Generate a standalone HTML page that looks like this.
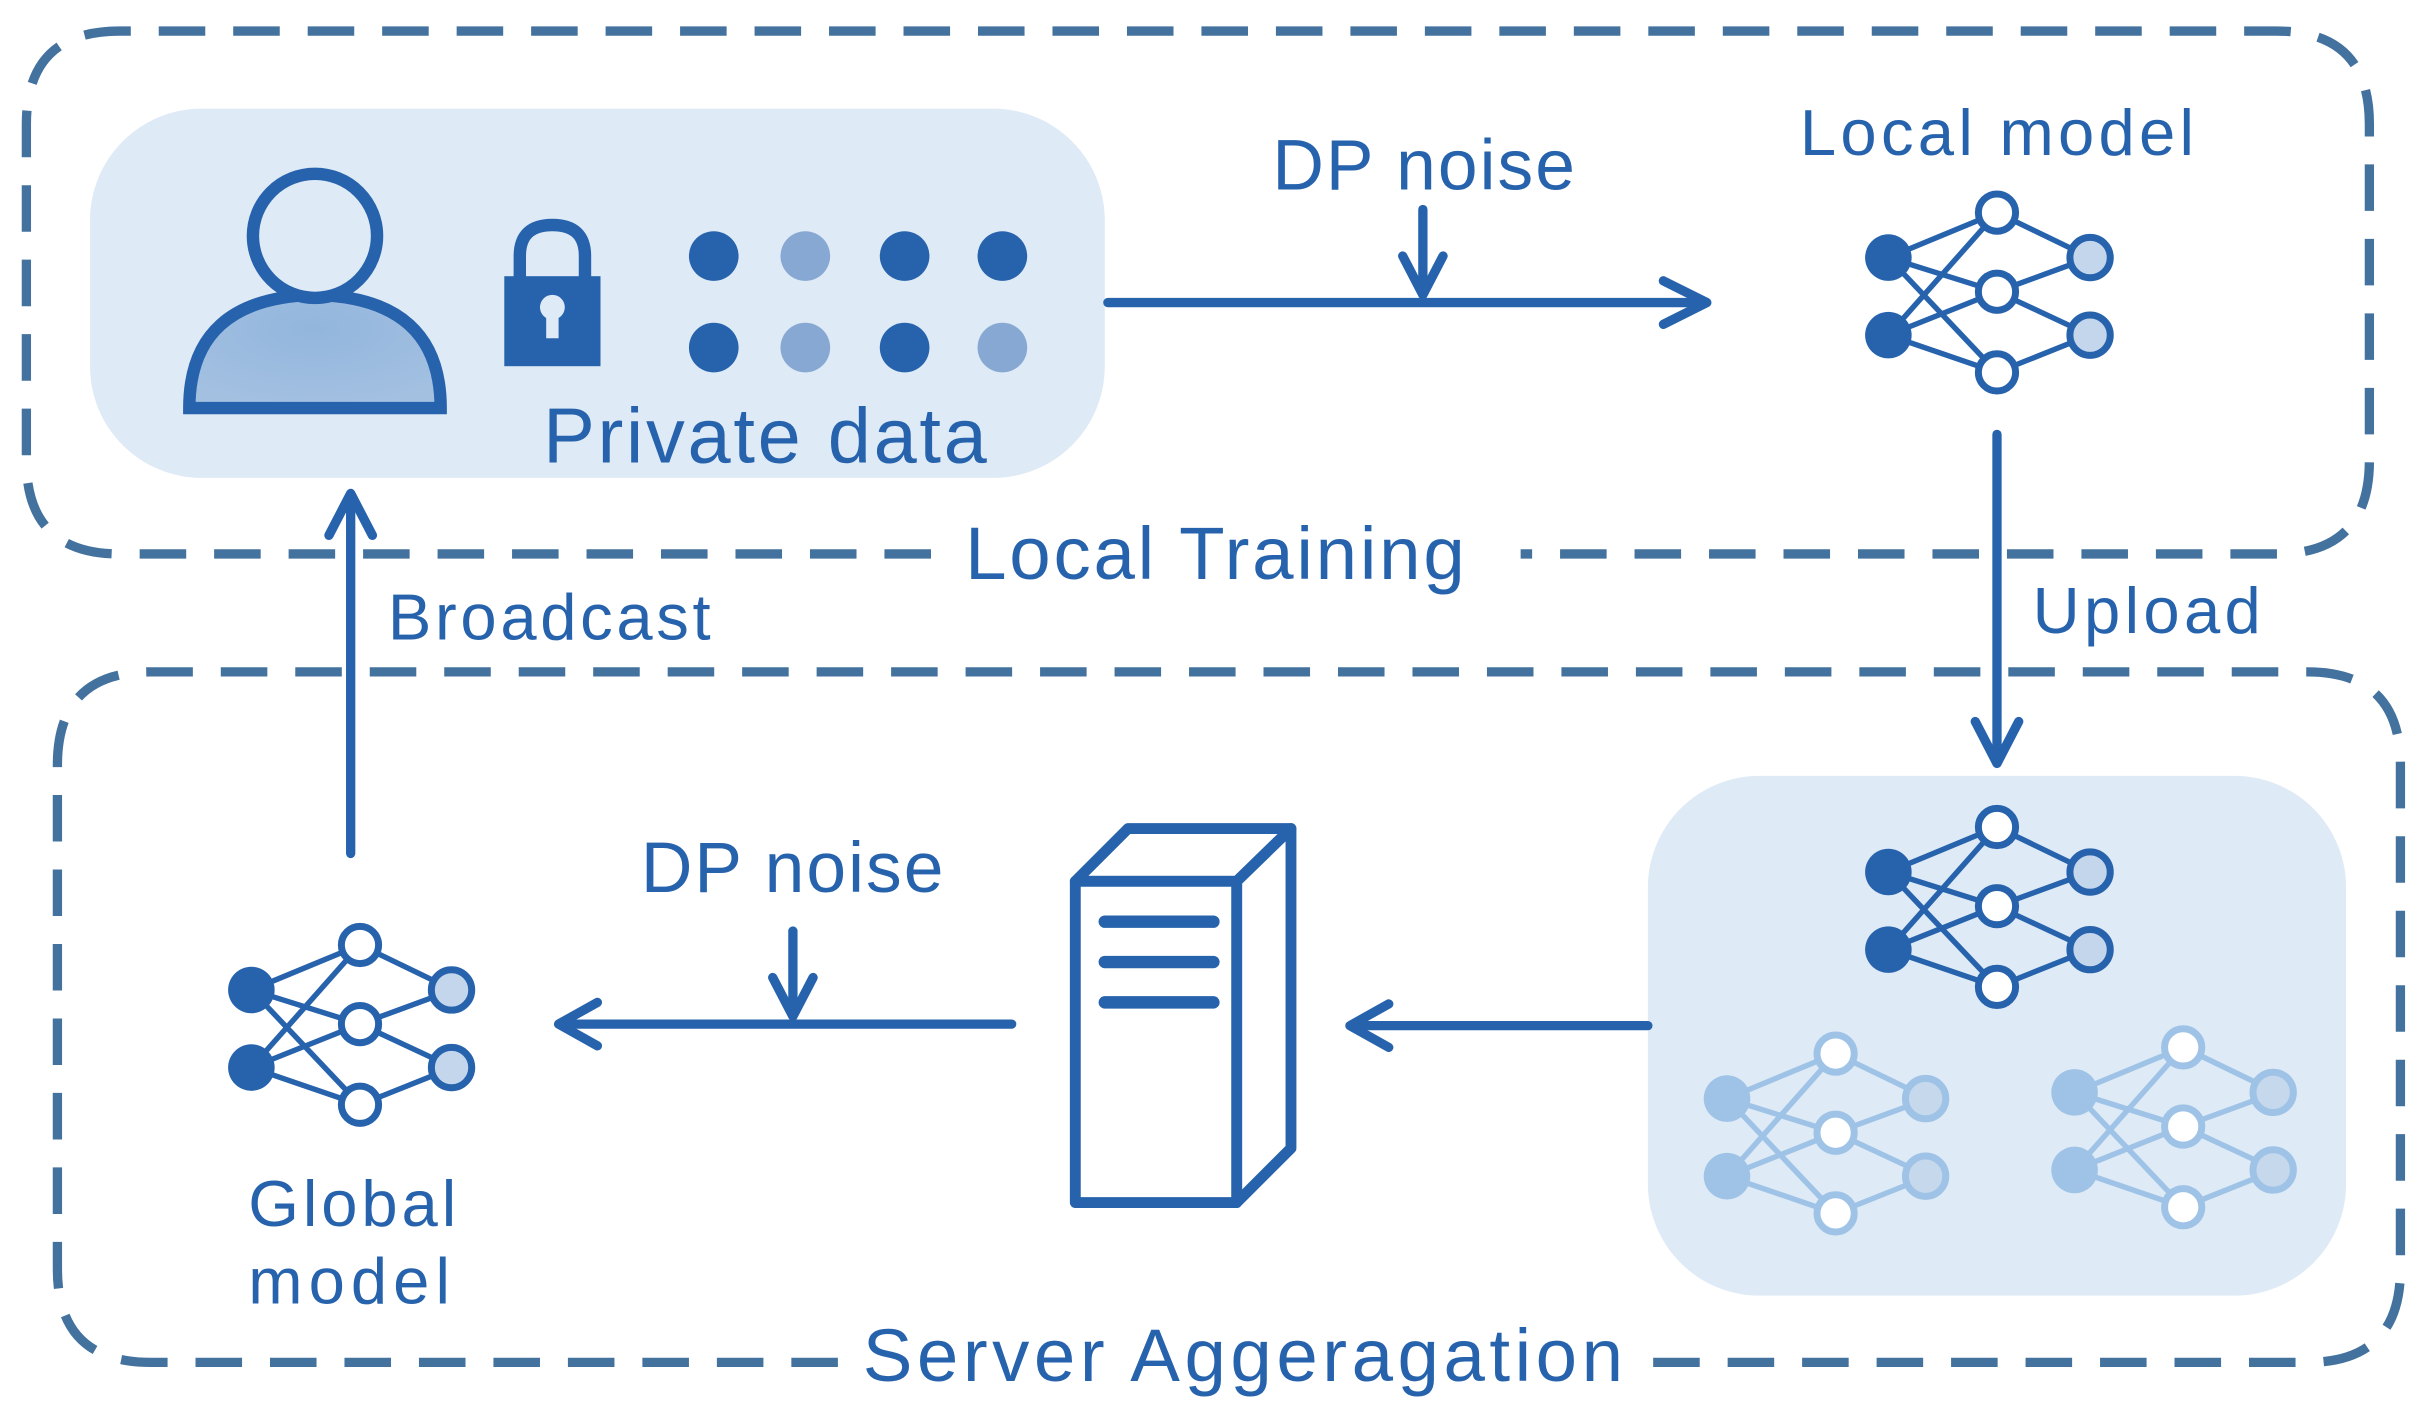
<!DOCTYPE html>
<html><head><meta charset="utf-8"><style>
html,body{margin:0;padding:0;background:#fff;}
svg{display:block;}
text{font-family:"Liberation Sans",sans-serif;fill:#2763ad;}
</style></head><body>
<svg width="2433" height="1419" viewBox="0 0 1568 914.5" preserveAspectRatio="none" xmlns="http://www.w3.org/2000/svg">
<defs>
<radialGradient id="pg" cx="0.5" cy="0.3" r="0.7"><stop offset="0" stop-color="#93b6dd"/><stop offset="1" stop-color="#a3c0e1"/></radialGradient>
<g id="nn">
<g stroke-width="3.5">
<line x1="0" y1="0" x2="70" y2="-29"/><line x1="0" y1="0" x2="70" y2="22"/><line x1="0" y1="0" x2="70" y2="74"/>
<line x1="0" y1="50" x2="70" y2="-29"/><line x1="0" y1="50" x2="70" y2="22"/><line x1="0" y1="50" x2="70" y2="74"/>
<line x1="70" y1="-29" x2="130" y2="0"/><line x1="70" y1="22" x2="130" y2="0"/><line x1="70" y1="22" x2="130" y2="50"/><line x1="70" y1="74" x2="130" y2="50"/>
</g>
<g stroke-width="4.5">
<circle cx="70" cy="-29" r="12" fill="#fff"/><circle cx="70" cy="22" r="12" fill="#fff"/><circle cx="70" cy="74" r="12" fill="#fff"/>
</g>
</g>
</defs>
<g fill="none" stroke="#44729e" stroke-width="6" stroke-dasharray="30 18">
<path d="M600 357 H77 Q17 357 17 297 V80 Q17 20 77 20 H1467 Q1527 20 1527 80 V297 Q1527 357 1467 357 H980"/>
<path d="M540 878 H97 Q37 878 37 818 V493 Q37 433 97 433 H1487 Q1547 433 1547 493 V818 Q1547 878 1487 878 H1060"/>
</g>
<rect x="58" y="70" width="654" height="238" rx="72" fill="#deeaf6"/>
<rect x="1062" y="500" width="450" height="335" rx="72" fill="#deeaf6"/>
<path d="M122 263 Q122 192 203 190 Q284 192 284 263 Z" fill="url(#pg)" stroke="#2763ad" stroke-width="8"/>
<circle cx="203" cy="152" r="40" fill="#deeaf6" stroke="#2763ad" stroke-width="8"/>
<path d="M335 180 V165 Q335 145 356 145 Q377 145 377 165 V180" fill="none" stroke="#2763ad" stroke-width="8"/>
<rect x="325" y="178" width="62" height="58" fill="#2763ad"/>
<circle cx="356" cy="198" r="8" fill="#deeaf6"/><rect x="352" y="200" width="8" height="18" fill="#deeaf6"/>
<g>
<circle cx="460" cy="165" r="16" fill="#2763ad"/><circle cx="519" cy="165" r="16" fill="#86a8d2"/><circle cx="583" cy="165" r="16" fill="#2763ad"/><circle cx="646" cy="165" r="16" fill="#2763ad"/>
<circle cx="460" cy="224" r="16" fill="#2763ad"/><circle cx="519" cy="224" r="16" fill="#86a8d2"/><circle cx="583" cy="224" r="16" fill="#2763ad"/><circle cx="646" cy="224" r="16" fill="#86a8d2"/>
</g>
<text x="350" y="298" font-size="50" textLength="286">Private data</text>
<g stroke="#2763ad" stroke-width="6" fill="none" stroke-linecap="round" stroke-linejoin="round">
<line x1="714" y1="195" x2="1098" y2="195"/><polyline points="1072,181 1100,195 1072,209"/>
<line x1="917" y1="135" x2="917" y2="188"/><polyline points="904,165 917,190 930,165"/>
<line x1="1287" y1="280" x2="1287" y2="490"/><polyline points="1273,465 1287,492 1301,465"/>
<line x1="226" y1="550" x2="226" y2="320"/><polyline points="212,345 226,318 240,345"/>
<line x1="1062" y1="661" x2="872" y2="661"/><polyline points="895,647 870,661 895,675"/>
<line x1="652" y1="660" x2="362" y2="660"/><polyline points="385,646 360,660 385,674"/>
<line x1="511" y1="600" x2="511" y2="653"/><polyline points="498,630 511,655 524,630"/>
</g>
<text x="820" y="122" font-size="46" textLength="195">DP noise</text>
<text x="1160" y="100" font-size="42" textLength="254">Local model</text>
<text x="1310" y="408" font-size="42" textLength="147">Upload</text>
<text x="622" y="373" font-size="48" textLength="322">Local Training</text>
<text x="250" y="412" font-size="42" textLength="208">Broadcast</text>
<text x="413" y="575" font-size="46" textLength="195">DP noise</text>
<text x="160" y="790" font-size="42" textLength="134">Global</text>
<text x="160" y="840" font-size="42" textLength="130">model</text>
<text x="556" y="890" font-size="48" textLength="490">Server Aggeragation</text>
<g stroke="#2763ad">
<use href="#nn" transform="translate(1217,166)"/>
<circle cx="1217" cy="166" r="15" fill="#2763ad" stroke="none"/><circle cx="1217" cy="216" r="15" fill="#2763ad" stroke="none"/>
<circle cx="1347" cy="166" r="13" fill="#c3d6ec" stroke-width="4.5"/><circle cx="1347" cy="216" r="13" fill="#c3d6ec" stroke-width="4.5"/>
</g>
<g stroke="#2763ad">
<use href="#nn" transform="translate(1217,562)"/>
<circle cx="1217" cy="562" r="15" fill="#2763ad" stroke="none"/><circle cx="1217" cy="612" r="15" fill="#2763ad" stroke="none"/>
<circle cx="1347" cy="562" r="13" fill="#c3d6ec" stroke-width="4.5"/><circle cx="1347" cy="612" r="13" fill="#c3d6ec" stroke-width="4.5"/>
</g>
<g stroke="#2763ad">
<use href="#nn" transform="translate(162,638)"/>
<circle cx="162" cy="638" r="15" fill="#2763ad" stroke="none"/><circle cx="162" cy="688" r="15" fill="#2763ad" stroke="none"/>
<circle cx="291" cy="638" r="13" fill="#c3d6ec" stroke-width="4.5"/><circle cx="291" cy="688" r="13" fill="#c3d6ec" stroke-width="4.5"/>
</g>
<g stroke="#9fc3e6">
<use href="#nn" transform="translate(1113,708)"/>
<circle cx="1113" cy="708" r="15" fill="#9fc3e6" stroke="none"/><circle cx="1113" cy="758" r="15" fill="#9fc3e6" stroke="none"/>
<circle cx="1241" cy="708" r="13" fill="#c6d8ec" stroke-width="4.5"/><circle cx="1241" cy="758" r="13" fill="#c6d8ec" stroke-width="4.5"/>
</g>
<g stroke="#9fc3e6">
<use href="#nn" transform="translate(1337,704)"/>
<circle cx="1337" cy="704" r="15" fill="#9fc3e6" stroke="none"/><circle cx="1337" cy="754" r="15" fill="#9fc3e6" stroke="none"/>
<circle cx="1465" cy="704" r="13" fill="#c6d8ec" stroke-width="4.5"/><circle cx="1465" cy="754" r="13" fill="#c6d8ec" stroke-width="4.5"/>
</g>
<g stroke="#2763ad" stroke-width="7" fill="#fff" stroke-linejoin="round">
<path d="M693 568 L727 534 H832 L797 568 Z"/>
<path d="M797 568 L832 534 V740 L797 775 Z"/>
<rect x="693" y="568" width="104" height="207"/>
</g>
<g stroke="#2763ad" stroke-width="8" stroke-linecap="round">
<line x1="712" y1="594" x2="782" y2="594"/><line x1="712" y1="620" x2="782" y2="620"/><line x1="712" y1="646" x2="782" y2="646"/>
</g>
</svg>
</body></html>
